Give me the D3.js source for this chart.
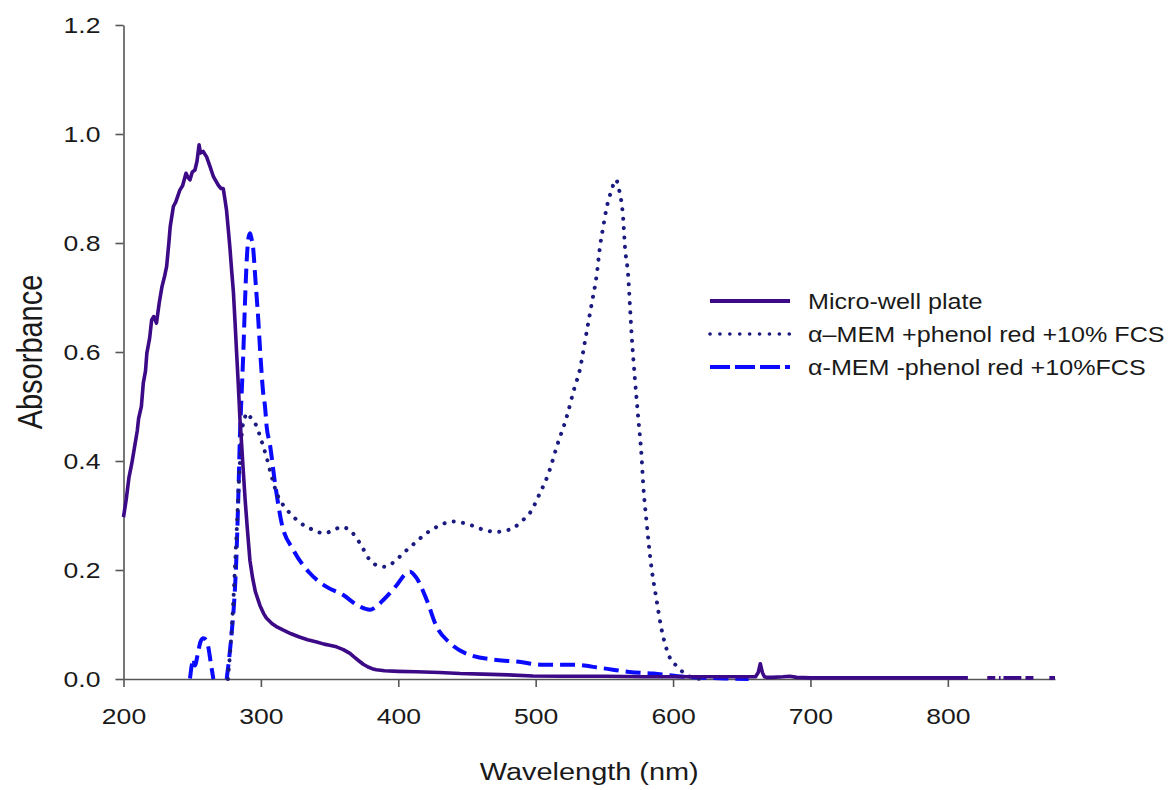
<!DOCTYPE html>
<html>
<head>
<meta charset="utf-8">
<script src="https://cdn.jsdelivr.net/npm/d3@7"></script>
<style>
  html, body { margin: 0; padding: 0; background: #fff; }
  svg { display: block; font-family: "Liberation Sans", Arial, sans-serif; }
</style>
</head>
<body>
<div class="plot-container"></div>
<script>
// Micro-well plate (solid)
const microWave = [200, 202, 204, 206, 208, 210, 211, 213, 214.4, 216, 217, 219, 220.5, 222, 224, 226, 228, 230, 231.4, 233, 234, 236.3, 238, 241, 243, 245.5, 247, 248.4, 250, 252, 253.5, 255, 256, 258, 260.5, 263, 265.4, 267, 269, 271, 272.6, 273.9, 275, 276.3, 277.5, 278.7, 280, 281.1, 282.3, 283.5, 284.8, 286, 287, 288.5, 290, 292, 294, 296, 299.3, 302, 304, 308, 312, 316, 322, 328, 334, 340.6, 346, 350, 355, 360, 364.8, 368, 371, 374.5, 378, 381, 384, 390, 400, 413, 430, 445, 461.6, 480, 498, 520, 550, 580, 610, 640, 655, 660, 662, 663.5, 665, 666.5, 668, 672, 680, 685, 690, 700, 740, 780, 814.6, 815.5, 828.7, 834.5, 835.5, 837.2, 838.4, 839, 840.5, 853.5, 855, 856.5, 862.3, 864, 873.9, 878];
const microAbs = [0.297, 0.33, 0.37, 0.395, 0.425, 0.455, 0.478, 0.5, 0.543, 0.565, 0.598, 0.625, 0.659, 0.665, 0.653, 0.69, 0.72, 0.74, 0.757, 0.8, 0.83, 0.867, 0.875, 0.897, 0.905, 0.928, 0.92, 0.916, 0.93, 0.934, 0.95, 0.98, 0.965, 0.968, 0.958, 0.94, 0.922, 0.915, 0.906, 0.9, 0.9, 0.879, 0.86, 0.824, 0.79, 0.75, 0.71, 0.659, 0.6, 0.543, 0.475, 0.43, 0.389, 0.33, 0.28, 0.218, 0.185, 0.16, 0.135, 0.12, 0.112, 0.102, 0.095, 0.09, 0.083, 0.077, 0.072, 0.068, 0.064, 0.062, 0.059, 0.054, 0.047, 0.04, 0.034, 0.027, 0.022, 0.019, 0.017, 0.015, 0.014, 0.0134, 0.012, 0.01, 0.009, 0.0075, 0.0055, 0.005, 0.005, 0.004, 0.004, 0.004, 0.004, 0.004, 0.012, 0.028, 0.012, 0.004, 0.003, 0.003, 0.004, 0.005, 0.003, 0.002, 0.002, 0.002, 0.002, null, 0.002, 0.002, null, 0.002, 0.002, null, 0.002, 0.002, null, 0.002, 0.002, null, 0.002, 0.002];

// alpha-MEM +phenol red +10% FCS (dotted)
const phenolWave = [276, 279, 282, 284.8, 286.5, 288.4, 289.7, 293, 297, 300, 304, 308, 311.5, 316, 321.2, 327, 333.3, 340, 345.4, 352, 358.8, 362, 366, 372.1, 379.4, 385, 390.3, 397, 403.7, 410, 415.8, 422, 427.9, 434, 440, 446, 452.2, 459.3, 465, 471.6, 478, 484.9, 490, 495.9, 503.1, 509.2, 515.7, 522.6, 528.1, 532.2, 535.9, 540.8, 544.4, 546.8, 549.2, 551.6, 555, 558.4, 560.8, 563.7, 565, 567.4, 568.6, 569.8, 572.3, 574.7, 577.1, 578.3, 580.8, 584, 588, 591.5, 597.3, 603, 609.5, 615, 620];
const phenolAbs = [0, 0.1, 0.25, 0.4, 0.46, 0.48, 0.488, 0.478, 0.463, 0.44, 0.408, 0.37, 0.341, 0.32, 0.304, 0.29, 0.279, 0.272, 0.267, 0.272, 0.279, 0.277, 0.27, 0.249, 0.218, 0.208, 0.206, 0.215, 0.231, 0.245, 0.258, 0.27, 0.279, 0.286, 0.289, 0.287, 0.283, 0.276, 0.272, 0.27, 0.272, 0.279, 0.29, 0.305, 0.341, 0.376, 0.429, 0.481, 0.533, 0.568, 0.62, 0.689, 0.741, 0.793, 0.83, 0.864, 0.895, 0.916, 0.897, 0.845, 0.793, 0.738, 0.686, 0.634, 0.549, 0.478, 0.408, 0.356, 0.286, 0.21, 0.145, 0.093, 0.041, 0.023, 0.008, 0.002, 0];

// alpha-MEM -phenol red +10% FCS (dashed)
const noPhenolWave = [248.4, 250, 250.8, 252, 254, 256, 258.1, 260, 261.7, 263.5, 265.4, 270, 275.1, 277, 278.7, 280.5, 281.9, 283.5, 284.8, 286, 287.2, 288.4, 289.7, 291, 292.1, 293, 294.5, 295.7, 298.1, 299.9, 301.7, 303, 304.2, 306.6, 310.3, 315.1, 323.6, 335.7, 347.9, 360, 369.8, 379.4, 384, 389.1, 398.8, 405, 408.5, 413.4, 420.7, 427.9, 437.6, 452.2, 471.6, 486.2, 505.5, 527.8, 548, 568.3, 585.7, 608.9, 637.8, 655];
const noPhenolAbs = [0.001, 0.03, 0.037, 0.025, 0.045, 0.068, 0.075, 0.072, 0.059, 0.03, 0, null, 0, 0.04, 0.084, 0.14, 0.206, 0.328, 0.451, 0.524, 0.598, 0.689, 0.769, 0.81, 0.818, 0.81, 0.787, 0.744, 0.659, 0.585, 0.524, 0.5, 0.463, 0.43, 0.359, 0.286, 0.237, 0.194, 0.169, 0.154, 0.136, 0.127, 0.133, 0.145, 0.172, 0.192, 0.197, 0.185, 0.145, 0.096, 0.066, 0.044, 0.035, 0.032, 0.026, 0.026, 0.02, 0.013, 0.01, 0.004, 0.001, 0];

const xTicks = [200, 300, 400, 500, 600, 700, 800];
const yTicks = [0, 0.2, 0.4, 0.6, 0.8, 1.0, 1.2];
const legendLabels = ["Micro-well plate", "\u03b1\u2013MEM +phenol red +10% FCS", "\u03b1-MEM -phenol red +10%FCS"];

const width = 1174, height = 790;
const SX = 1.18; // text in the reference is a bit wider than tall
const AXIS_COLOR = "#555";
const TEXT_COLOR = "#1a1a1a";
const MICRO_COLOR = "#3c0a86";
const PHENOL_COLOR = "#1a1a80";
const NOPHENOL_COLOR = "#0a0aff";

const svg = d3.select("div.plot-container").append("svg")
  .attr("width", width)
  .attr("height", height);

const x = d3.scaleLinear().domain([200, 878]).range([123.5, 1055]);
const y = d3.scaleLinear().domain([0, 1.2]).range([679, 25]);

// axes
const yAxis = svg.append("g")
  .attr("transform", `translate(${x(200)},0)`)
  .call(d3.axisLeft(y).tickValues(yTicks).tickFormat(d3.format(".1f")).tickSize(8).tickSizeOuter(0));

const xAxis = svg.append("g")
  .attr("transform", `translate(0,${y(0)})`)
  .call(d3.axisBottom(x).tickValues(xTicks).tickFormat(d3.format("d")).tickSize(8).tickSizeOuter(0));

[xAxis, yAxis].forEach(g => {
  g.select(".domain").attr("stroke", AXIS_COLOR).attr("stroke-width", 1.6);
  g.selectAll(".tick line").attr("stroke", AXIS_COLOR).attr("stroke-width", 1.6);
  g.selectAll(".tick text")
    .attr("fill", TEXT_COLOR)
    .style("font-size", "22.5px")
    .style("font-family", "'Liberation Sans', Arial, sans-serif");
});

yAxis.selectAll(".tick text")
  .attr("x", -23 / SX)
  .attr("transform", `scale(${SX},1)`);

xAxis.selectAll(".tick text")
  .attr("y", 29)
  .attr("transform", `scale(${SX},1)`);

// axis titles
svg.append("text")
  .attr("transform", `translate(${(x.range()[0] + x.range()[1]) / 2},780) scale(${SX},1)`)
  .attr("text-anchor", "middle")
  .attr("fill", TEXT_COLOR)
  .style("font-size", "24.5px")
  .text("Wavelength (nm)");

svg.append("text")
  .attr("transform", `translate(42,${(y.range()[0] + y.range()[1]) / 2}) scale(${SX},1) rotate(-90)`)
  .attr("text-anchor", "middle")
  .attr("fill", TEXT_COLOR)
  .style("font-size", "29px")
  .text("Absorbance");

// curves
function lineFor(curve) {
  return d3.line()
    .defined(d => d[1] !== null)
    .x(d => x(d[0]))
    .y(d => y(d[1]))
    .curve(curve);
}

const noPhenolData = d3.zip(noPhenolWave, noPhenolAbs);
const phenolData = d3.zip(phenolWave, phenolAbs);
const microData = d3.zip(microWave, microAbs);

svg.append("path")
  .datum(noPhenolData)
  .attr("fill", "none")
  .attr("stroke", NOPHENOL_COLOR)
  .attr("stroke-width", 4)
  .attr("stroke-dasharray", "15 7")
  .attr("d", lineFor(d3.curveMonotoneX));

svg.append("path")
  .datum(phenolData)
  .attr("fill", "none")
  .attr("stroke", PHENOL_COLOR)
  .attr("stroke-width", 4)
  .attr("stroke-linecap", "round")
  .attr("stroke-dasharray", "0.1 9.3")
  .attr("d", lineFor(d3.curveMonotoneX));

svg.append("path")
  .datum(microData)
  .attr("fill", "none")
  .attr("stroke", MICRO_COLOR)
  .attr("stroke-width", 3.6)
  .attr("stroke-linejoin", "round")
  .attr("d", lineFor(d3.curveLinear));

// legend
const legend = svg.append("g").attr("transform", "translate(710,301)");
const legendStyles = [
  { color: MICRO_COLOR, width: 4, dash: null, cap: "butt" },
  { color: PHENOL_COLOR, width: 3.6, dash: "0.1 9.8", cap: "round" },
  { color: NOPHENOL_COLOR, width: 4.2, dash: "20 5", cap: "butt" }
];

legendLabels.forEach((label, i) => {
  const row = legend.append("g").attr("transform", `translate(0,${i * 33})`);
  const s = legendStyles[i];
  row.append("line")
    .attr("x1", 0).attr("x2", 80)
    .attr("y1", 0).attr("y2", 0)
    .attr("stroke", s.color)
    .attr("stroke-width", s.width)
    .attr("stroke-linecap", s.cap)
    .attr("stroke-dasharray", s.dash);
  row.append("text")
    .attr("transform", `translate(98,0) scale(${SX},1)`)
    .attr("dy", "0.36em")
    .attr("fill", TEXT_COLOR)
    .style("font-size", "21.3px")
    .text(label);
});
</script>
</body>
</html>
